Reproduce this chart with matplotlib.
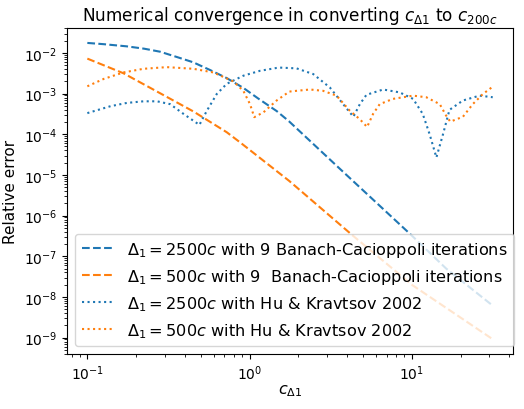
import numpy as np
import matplotlib
matplotlib.use("Agg")
import matplotlib.pyplot as plt

# blue dashed: Delta1 = 2500c, Banach-Cacioppoli
x_bc2500 = [0.1, 0.126, 0.175, 0.224, 0.281, 0.356, 0.449, 0.571, 0.724, 0.916, 1.13, 1.47, 1.75,
            3.61, 9.95, 16.3, 31.5]
y_bc2500 = [1.76e-2, 1.64e-2, 1.45e-2, 1.27e-2, 1.07e-2, 7.94e-3, 5.89e-3, 3.80e-3, 2.40e-3, 1.38e-3, 7.59e-4,
            3.72e-4, 2.09e-4, 1.41e-5, 3.31e-7, 5.0e-8, 6.17e-9]

# orange dashed: Delta1 = 500c, Banach-Cacioppoli
x_bc500 = [0.1, 0.167, 0.281, 0.451, 0.724, 0.875, 1.76, 4.36, 10.1, 31.6]
y_bc500 = [7.24e-3, 3.16e-3, 1.02e-3, 3.63e-4, 1.12e-4, 6.31e-5, 7.08e-6, 3.16e-7, 1.95e-8, 9.12e-10]

# blue dotted: Delta1 = 2500c, Hu & Kravtsov 2002
x_hk2500 = [0.1, 0.139, 0.175, 0.222, 0.269, 0.324, 0.392, 0.491, 0.546, 0.628, 0.724, 0.916,
            1.16, 1.47, 1.54, 1.95, 2.47, 3.13, 3.78, 4.37, 4.79, 5.26, 6.67, 8.43, 10.2,
            11.7, 12.9, 14.2, 15.6, 17.1, 20.7, 26.2, 31.6]
y_hk2500 = [3.31e-4, 4.9e-4, 5.89e-4, 6.46e-4, 6.46e-4, 5.5e-4, 3.16e-4, 1.70e-4, 3.8e-4, 9.77e-4, 1.74e-3, 2.75e-3,
            3.63e-3, 4.27e-3, 4.35e-3, 4.17e-3, 3.02e-3, 1.41e-3, 5.5e-4, 2.69e-4, 5.5e-4, 9.33e-4, 1.26e-3, 1.07e-3, 7.41e-4,
            3.16e-4, 1.0e-4, 2.69e-5, 1.0e-4, 3.98e-4, 6.76e-4, 8.91e-4, 8.13e-4]

# orange dotted: Delta1 = 500c, Hu & Kravtsov 2002
x_hk500 = [0.1, 0.126, 0.167, 0.222, 0.309, 0.451, 0.598, 0.794, 0.916, 1.007, 1.07, 1.22, 1.47, 1.76,
           1.95, 2.36, 2.84, 3.44, 4.15, 4.79, 5.31, 5.78, 6.35, 7.67, 10.2, 12.3, 14.9, 16.3,
           17.3, 20.7, 23.8, 27.5, 31.6]
y_hk500 = [1.51e-3, 2.29e-3, 3.31e-3, 4.07e-3, 4.47e-3, 4.07e-3, 3.31e-3, 2.0e-3, 1.17e-3, 5.5e-4, 2.63e-4, 3.47e-4, 6.76e-4, 1.12e-3,
           1.17e-3, 1.26e-3, 1.17e-3, 8.9e-4, 3.8e-4, 2.34e-4, 1.51e-4, 3.16e-4, 5.5e-4, 7.41e-4, 8.9e-4, 8.13e-4, 5.5e-4, 2.88e-4,
           2.04e-4, 2.69e-4, 5.5e-4, 9.77e-4, 1.48e-3]

labels = [r"$\Delta_1 = 2500c$ with 9 Banach-Cacioppoli iterations",
          r"$\Delta_1 = 500c$ with 9  Banach-Cacioppoli iterations",
          r"$\Delta_1 = 2500c$ with Hu & Kravtsov 2002",
          r"$\Delta_1 = 500c$ with Hu & Kravtsov 2002"]

fig = plt.figure(figsize=(5.24, 4.10), dpi=100)
ax = fig.add_axes([0.128, 0.134, 0.851, 0.795])

ax.plot(x_bc2500, y_bc2500, '--', color='C0', label=labels[0])
ax.plot(x_bc500, y_bc500, '--', color='C1', label=labels[1])
ax.plot(x_hk2500, y_hk2500, ':', color='C0', label=labels[2])
ax.plot(x_hk500, y_hk500, ':', color='C1', label=labels[3])

ax.set_xscale("log")
ax.set_yscale("log")
ax.tick_params(labelsize=10)
ax.set_xlabel(r"$c_{\Delta 1}$", fontsize=11.5, labelpad=0)
ax.set_ylabel("Relative error", fontsize=11)
ax.set_title(r"Numerical convergence in converting $c_{\Delta 1}$ to $c_{200c}$", fontsize=12.2)
ax.legend(loc='lower left', fontsize=11.6)

fig.savefig("out.png", dpi=100)
